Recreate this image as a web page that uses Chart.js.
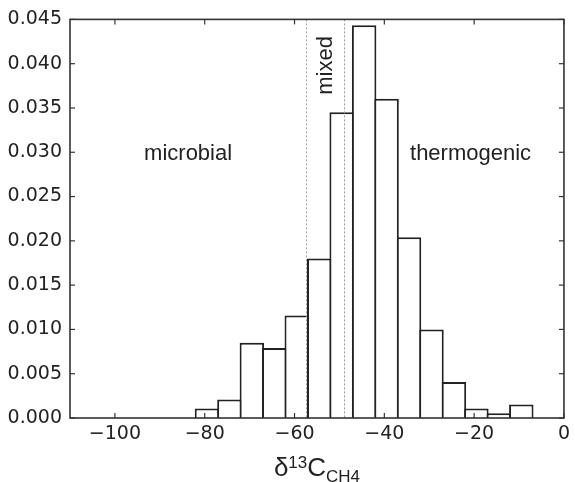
<!DOCTYPE html>
<html>
<head>
<meta charset="utf-8">
<script src="https://cdn.jsdelivr.net/npm/chart.js@4.4.0/dist/chart.umd.min.js"></script>
<style>
    html, body { margin: 0; padding: 0; background: #fff; }
    #wrap { width: 575px; height: 482px; }
</style>
</head>
<body>
<div id="wrap"><canvas id="c"></canvas></div>
<script>
// 直方图分箱左边界 (δ13C, ‰) 与箱宽
const binEdges = [-82, -77, -72, -67, -62, -57, -52, -47, -42, -37, -32, -27, -22, -17, -12];
const binWidth = 5;
// 归一化频率
const density = [0.00106, 0.00208, 0.0085, 0.0079, 0.01158, 0.018, 0.03452, 0.04433,
                 0.03603, 0.0204, 0.0100, 0.00406, 0.00106, 0.00053, 0.00151];
// 坐标轴刻度
const xTicks = [-100, -80, -60, -40, -20, 0];
const yTicks = [0, 0.005, 0.010, 0.015, 0.020, 0.025, 0.030, 0.035, 0.040, 0.045];
// mixed 区间边界
const mixedBounds = [-57.5, -49];

const textFont = '"Liberation Sans", Arial, sans-serif';
const tickFont = { family: '"DejaVu Sans", sans-serif', size: 19 };

// 边框、内向刻度、虚线、注释文字和 x 轴标题
const framePlugin = {
    id: 'frame',
    afterDatasetsDraw(chart) {
        const { ctx, chartArea: a, scales: { x, y } } = chart;
        const line = (x1, y1, x2, y2) => {
            ctx.beginPath();
            ctx.moveTo(x1, y1);
            ctx.lineTo(x2, y2);
            ctx.stroke();
        };
        ctx.save();

        ctx.strokeStyle = '#9a9a9a';
        ctx.lineWidth = 1;
        ctx.setLineDash([2, 2]);
        mixedBounds.forEach(v => {
            const px = Math.round(x.getPixelForValue(v)) + 0.5;
            line(px, a.top, px, a.bottom);
        });
        ctx.setLineDash([]);

        ctx.strokeStyle = '#333';
        ctx.lineWidth = 1.6;
        ctx.strokeRect(a.left, a.top, a.right - a.left, a.bottom - a.top);

        ctx.lineWidth = 1.2;
        const len = 5;
        xTicks.forEach(v => {
            const px = x.getPixelForValue(v);
            line(px, a.bottom, px, a.bottom - len);
            line(px, a.top, px, a.top + len);
        });
        yTicks.forEach(v => {
            const py = y.getPixelForValue(v);
            line(a.left, py, a.left + len, py);
            line(a.right, py, a.right - len, py);
        });

        ctx.fillStyle = '#222';
        ctx.font = '22px ' + textFont;
        ctx.textAlign = 'center';
        ctx.textBaseline = 'middle';
        ctx.fillText('microbial', x.getPixelForValue(-83.7), y.getPixelForValue(0.0298));
        ctx.fillText('thermogenic', x.getPixelForValue(-20.8), y.getPixelForValue(0.0298));
        ctx.save();
        ctx.translate(x.getPixelForValue(-53.1), y.getPixelForValue(0.0398));
        ctx.rotate(-Math.PI / 2);
        ctx.fillText('mixed', 0, 0);
        ctx.restore();

        // δ13C_CH4
        const parts = [
            { t: 'δ', size: 26, dy: 0 },
            { t: '13', size: 17, dy: -8 },
            { t: 'C', size: 26, dy: 0 },
            { t: 'CH4', size: 17, dy: 6 }
        ];
        ctx.textAlign = 'left';
        ctx.textBaseline = 'alphabetic';
        let total = 0;
        parts.forEach(p => {
            ctx.font = p.size + 'px ' + textFont;
            p.w = ctx.measureText(p.t).width;
            total += p.w;
        });
        let cx = (a.left + a.right) / 2 - total / 2;
        const base = a.bottom + 58;
        parts.forEach(p => {
            ctx.font = p.size + 'px ' + textFont;
            ctx.fillText(p.t, cx, base + p.dy);
            cx += p.w;
        });
        ctx.restore();
    }
};

new Chart(document.getElementById('c'), {
    type: 'bar',
    data: {
        datasets: [{
            data: binEdges.map((e, i) => ({ x: e + binWidth / 2, y: density[i] })),
            backgroundColor: '#fff',
            borderColor: '#222',
            borderWidth: 2,
            barPercentage: 1.09,
            categoryPercentage: 1
        }]
    },
    options: {
        responsive: true,
        maintainAspectRatio: false,
        animation: false,
        layout: { padding: { top: 18, right: 8, left: 0, bottom: 0 } },
        plugins: { legend: { display: false }, tooltip: { enabled: false } },
        scales: {
            x: {
                type: 'linear',
                min: -110,
                max: 0,
                offset: false,
                afterBuildTicks: s => { s.ticks = xTicks.map(v => ({ value: v })); },
                afterFit: s => { s.height = 64; },
                grid: { display: false, drawTicks: false, offset: false },
                border: { display: false },
                ticks: {
                    font: tickFont,
                    color: '#222',
                    padding: 5,
                    maxRotation: 0,
                    callback: v => (v < 0 ? '\u2212' + Math.abs(v) : String(v))
                }
            },
            y: {
                min: 0,
                max: 0.045,
                afterBuildTicks: s => { s.ticks = yTicks.map(v => ({ value: v })); },
                afterFit: s => { s.width = 70; },
                grid: { display: false, drawTicks: false },
                border: { display: false },
                ticks: {
                    font: tickFont,
                    color: '#222',
                    padding: 8,
                    callback: v => v.toFixed(3)
                }
            }
        }
    },
    plugins: [framePlugin]
});
</script>
</body>
</html>
